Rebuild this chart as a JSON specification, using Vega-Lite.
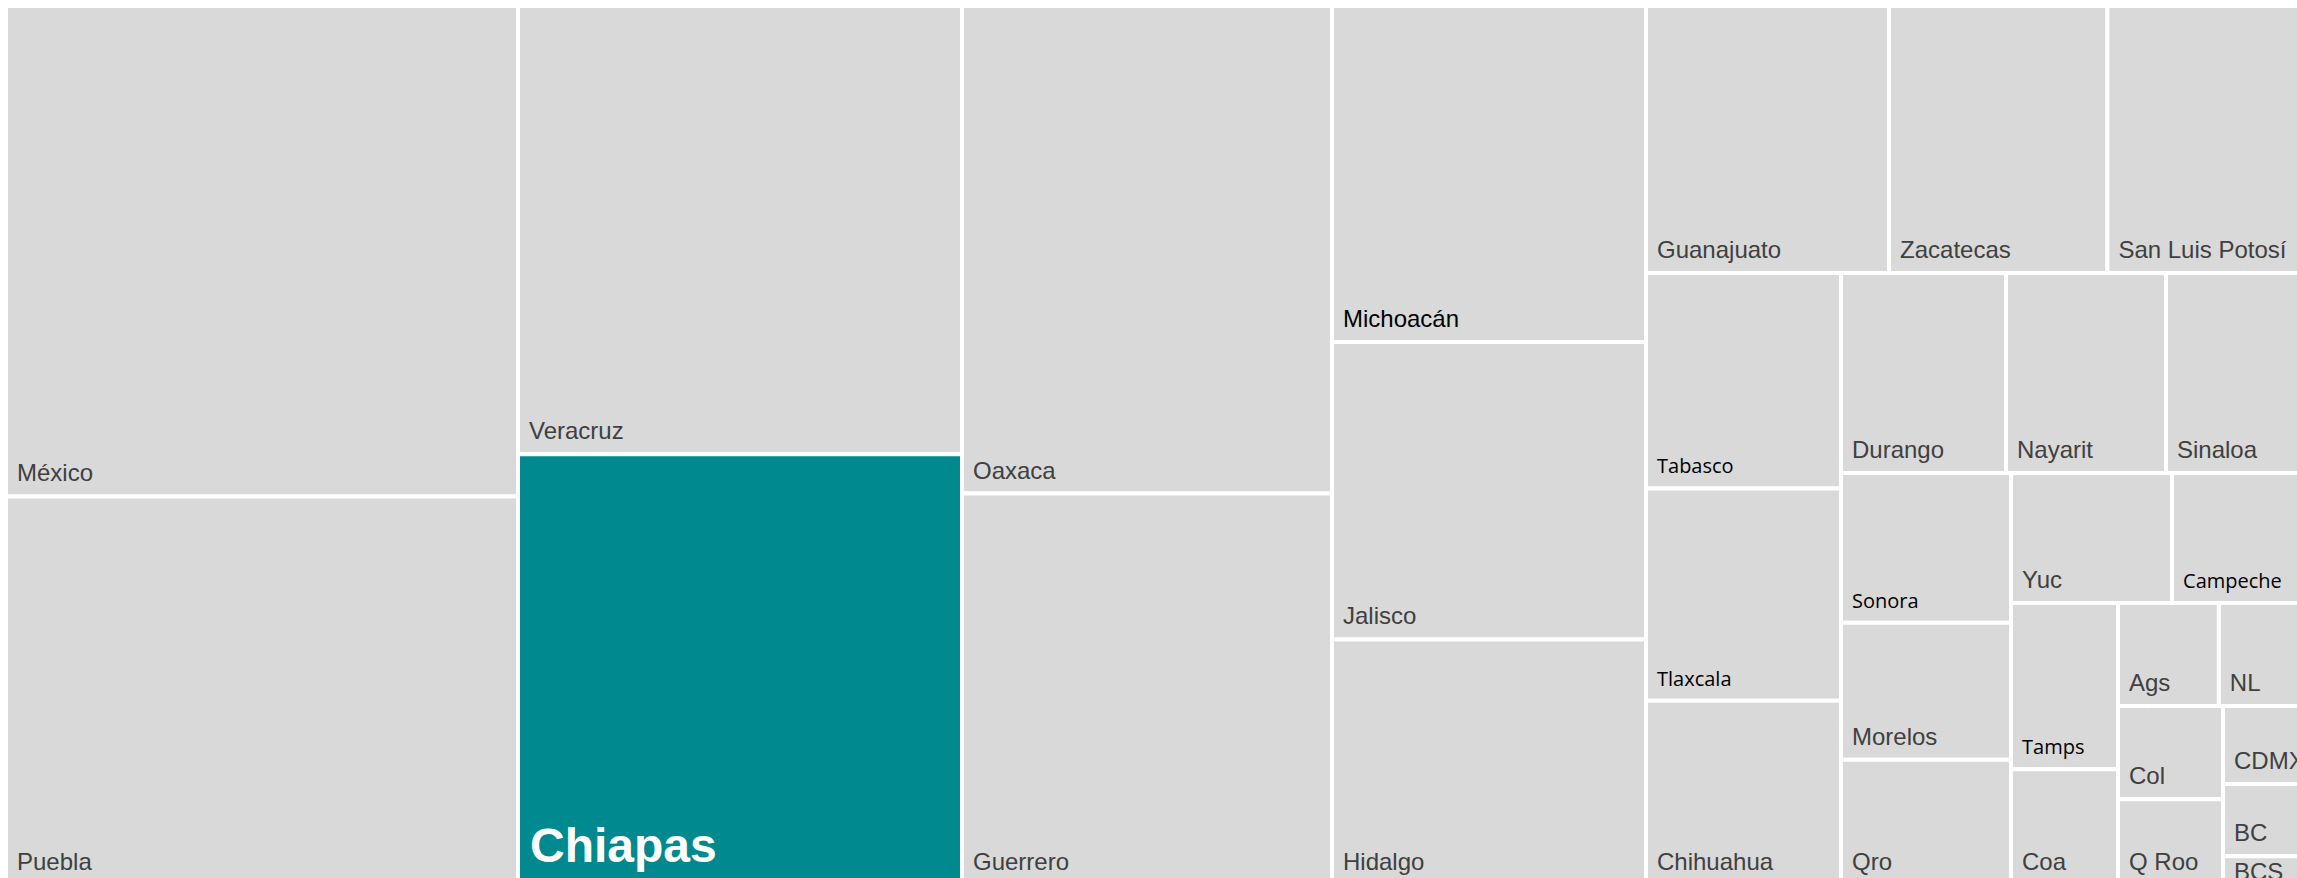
{
  "$schema": "https://vega.github.io/schema/vega-lite/v6.json",
  "background": "white",
  "padding": {"left": 4, "top": 4, "right": 0, "bottom": 0},
  "datasets": {
    "states": [
      {"state": "México", "value": 251.1, "strip": "A"},
      {"state": "Puebla", "value": 198.9, "strip": "A"},
      {"state": "Veracruz", "value": 199.0, "strip": "B"},
      {"state": "Chiapas", "value": 191.3, "strip": "B"},
      {"state": "Oaxaca", "value": 180.4, "strip": "C"},
      {"state": "Guerrero", "value": 144.8, "strip": "C"},
      {"state": "Michoacán", "value": 105.5, "strip": "D"},
      {"state": "Jalisco", "value": 93.4, "strip": "D"},
      {"state": "Hidalgo", "value": 77.1, "strip": "D"},
      {"state": "Guanajuato", "value": 64.9, "strip": "E"},
      {"state": "Zacatecas", "value": 58.3, "strip": "E"},
      {"state": "San Luis Potosí", "value": 54.1, "strip": "E"},
      {"state": "Tabasco", "value": 42.0, "strip": "F"},
      {"state": "Tlaxcala", "value": 41.4, "strip": "F"},
      {"state": "Chihuahua", "value": 35.9, "strip": "F"},
      {"state": "Durango", "value": 33.0, "strip": "G"},
      {"state": "Nayarit", "value": 32.0, "strip": "G"},
      {"state": "Sinaloa", "value": 28.8, "strip": "G"},
      {"state": "Sonora", "value": 25.5, "strip": "H"},
      {"state": "Morelos", "value": 23.3, "strip": "H"},
      {"state": "Qro", "value": 21.3, "strip": "H"},
      {"state": "Yuc", "value": 20.9, "strip": "I"},
      {"state": "Campeche", "value": 17.9, "strip": "I"},
      {"state": "Tamps", "value": 17.8, "strip": "J"},
      {"state": "Coa", "value": 12.4, "strip": "J"},
      {"state": "Ags", "value": 10.4, "strip": "K"},
      {"state": "NL", "value": 9.4, "strip": "K"},
      {"state": "Col", "value": 9.8, "strip": "L"},
      {"state": "Q Roo", "value": 9.0, "strip": "L"},
      {"state": "CDMX", "value": 6.8, "strip": "M"},
      {"state": "BC", "value": 6.3, "strip": "M"},
      {"state": "BCS", "value": 2.5, "strip": "M"}
    ]
  },
  "data": {"name": "states"},
  "config": {
    "view": {"stroke": null},
    "concat": {"spacing": 0},
    "axis": {"disable": true}
  },
  "bounds": "flush",
  "resolve": {"scale": {"x": "independent", "y": "independent"}},
  "hconcat": [
    {
      "width": 512, "height": 879,
      "transform": [{"filter": "datum.strip === 'A'"}, {"stack": "value", "groupby": ["strip"], "sort": [{"field": "value", "order": "ascending"}], "offset": "normalize", "as": ["s0", "s1"]}],
      "encoding": {"x": {"datum": 0, "type": "quantitative", "scale": {"domain": [0, 1]}}, "y": {"field": "s0", "type": "quantitative", "scale": {"domain": [0, 1]}}},
      "layer": [
        {"mark": {"type": "rect", "stroke": "white", "strokeWidth": 4}, "encoding": {"x2": {"datum": 1}, "y2": {"field": "s1"}, "color": {"value": "#D9D9D9"}}},
        {"mark": {"type": "text", "align": "left", "baseline": "alphabetic", "dx": 11, "dy": -15, "font": "Liberation Sans", "fontSize": 24}, "encoding": {"text": {"field": "state"}, "color": {"value": "#404040"}}}
      ]
    },
    {
      "width": 444, "height": 879,
      "transform": [{"filter": "datum.strip === 'B'"}, {"stack": "value", "groupby": ["strip"], "sort": [{"field": "value", "order": "ascending"}], "offset": "normalize", "as": ["s0", "s1"]}],
      "encoding": {"x": {"datum": 0, "type": "quantitative", "scale": {"domain": [0, 1]}}, "y": {"field": "s0", "type": "quantitative", "scale": {"domain": [0, 1]}}},
      "layer": [
        {"mark": {"type": "rect", "stroke": "white", "strokeWidth": 4}, "encoding": {"x2": {"datum": 1}, "y2": {"field": "s1"}, "color": {"condition": {"test": "datum.state === 'Chiapas'", "value": "#00898E"}, "value": "#D9D9D9"}}},
        {"transform": [{"filter": "datum.state !== 'Chiapas'"}], "mark": {"type": "text", "align": "left", "baseline": "alphabetic", "dx": 11, "dy": -15, "font": "Liberation Sans", "fontSize": 24}, "encoding": {"text": {"field": "state"}, "color": {"value": "#404040"}}},
        {"transform": [{"filter": "datum.state === 'Chiapas'"}], "mark": {"type": "text", "align": "left", "baseline": "alphabetic", "dx": 12, "dy": -23, "font": "Liberation Sans", "fontWeight": "bold", "fontSize": 48}, "encoding": {"text": {"field": "state"}, "color": {"value": "#FFFFFF"}}}
      ]
    },
    {
      "width": 370, "height": 879,
      "transform": [{"filter": "datum.strip === 'C'"}, {"stack": "value", "groupby": ["strip"], "sort": [{"field": "value", "order": "ascending"}], "offset": "normalize", "as": ["s0", "s1"]}],
      "encoding": {"x": {"datum": 0, "type": "quantitative", "scale": {"domain": [0, 1]}}, "y": {"field": "s0", "type": "quantitative", "scale": {"domain": [0, 1]}}},
      "layer": [
        {"mark": {"type": "rect", "stroke": "white", "strokeWidth": 4}, "encoding": {"x2": {"datum": 1}, "y2": {"field": "s1"}, "color": {"value": "#D9D9D9"}}},
        {"mark": {"type": "text", "align": "left", "baseline": "alphabetic", "dx": 11, "dy": -15, "font": "Liberation Sans", "fontSize": 24}, "encoding": {"text": {"field": "state"}, "color": {"value": "#404040"}}}
      ]
    },
    {
      "width": 314, "height": 879,
      "transform": [{"filter": "datum.strip === 'D'"}, {"stack": "value", "groupby": ["strip"], "sort": [{"field": "value", "order": "ascending"}], "offset": "normalize", "as": ["s0", "s1"]}],
      "encoding": {"x": {"datum": 0, "type": "quantitative", "scale": {"domain": [0, 1]}}, "y": {"field": "s0", "type": "quantitative", "scale": {"domain": [0, 1]}}},
      "layer": [
        {"mark": {"type": "rect", "stroke": "white", "strokeWidth": 4}, "encoding": {"x2": {"datum": 1}, "y2": {"field": "s1"}, "color": {"value": "#D9D9D9"}}},
        {"mark": {"type": "text", "align": "left", "baseline": "alphabetic", "dx": 11, "dy": -15, "font": "Liberation Sans", "fontSize": 24}, "encoding": {"text": {"field": "state"}, "color": {"condition": {"test": "datum.state === 'Michoacán'", "value": "#000000"}, "value": "#404040"}}}
      ]
    },
    {
      "bounds": "flush",
      "resolve": {"scale": {"x": "independent", "y": "independent"}},
      "vconcat": [
        {
          "width": 664, "height": 267,
          "transform": [{"filter": "datum.strip === 'E'"}, {"stack": "value", "groupby": ["strip"], "sort": [{"field": "value", "order": "descending"}], "offset": "normalize", "as": ["s0", "s1"]}],
          "encoding": {"x": {"field": "s0", "type": "quantitative", "scale": {"domain": [0, 1]}}, "y": {"datum": 0, "type": "quantitative", "scale": {"domain": [0, 1]}}},
          "layer": [
            {"mark": {"type": "rect", "stroke": "white", "strokeWidth": 4}, "encoding": {"x2": {"field": "s1"}, "y2": {"datum": 1}, "color": {"value": "#D9D9D9"}}},
            {"mark": {"type": "text", "align": "left", "baseline": "alphabetic", "dx": 11, "dy": -15, "font": "Liberation Sans", "fontSize": 24}, "encoding": {"text": {"field": "state"}, "color": {"value": "#404040"}}}
          ]
        },
        {
          "bounds": "flush",
          "resolve": {"scale": {"x": "independent", "y": "independent"}},
          "hconcat": [
            {
              "width": 195, "height": 612,
              "transform": [{"filter": "datum.strip === 'F'"}, {"stack": "value", "groupby": ["strip"], "sort": [{"field": "value", "order": "ascending"}], "offset": "normalize", "as": ["s0", "s1"]}],
              "encoding": {"x": {"datum": 0, "type": "quantitative", "scale": {"domain": [0, 1]}}, "y": {"field": "s0", "type": "quantitative", "scale": {"domain": [0, 1]}}},
              "layer": [
                {"mark": {"type": "rect", "stroke": "white", "strokeWidth": 4}, "encoding": {"x2": {"datum": 1}, "y2": {"field": "s1"}, "color": {"value": "#D9D9D9"}}},
                {"transform": [{"filter": "datum.state === 'Chihuahua'"}], "mark": {"type": "text", "align": "left", "baseline": "alphabetic", "dx": 11, "dy": -15, "font": "Liberation Sans", "fontSize": 24}, "encoding": {"text": {"field": "state"}, "color": {"value": "#404040"}}},
                {"transform": [{"filter": "datum.state !== 'Chihuahua'"}], "mark": {"type": "text", "align": "left", "baseline": "alphabetic", "dx": 11, "dy": -15, "font": "Open Sans", "fontSize": 20}, "encoding": {"text": {"field": "state"}, "color": {"value": "#000000"}}}
              ]
            },
            {
              "bounds": "flush",
              "resolve": {"scale": {"x": "independent", "y": "independent"}},
              "vconcat": [
                {
                  "width": 469, "height": 200,
                  "transform": [{"filter": "datum.strip === 'G'"}, {"stack": "value", "groupby": ["strip"], "sort": [{"field": "value", "order": "descending"}], "offset": "normalize", "as": ["s0", "s1"]}],
                  "encoding": {"x": {"field": "s0", "type": "quantitative", "scale": {"domain": [0, 1]}}, "y": {"datum": 0, "type": "quantitative", "scale": {"domain": [0, 1]}}},
                  "layer": [
                    {"mark": {"type": "rect", "stroke": "white", "strokeWidth": 4}, "encoding": {"x2": {"field": "s1"}, "y2": {"datum": 1}, "color": {"value": "#D9D9D9"}}},
                    {"mark": {"type": "text", "align": "left", "baseline": "alphabetic", "dx": 11, "dy": -15, "font": "Liberation Sans", "fontSize": 24}, "encoding": {"text": {"field": "state"}, "color": {"value": "#404040"}}}
                  ]
                },
                {
                  "bounds": "flush",
                  "resolve": {"scale": {"x": "independent", "y": "independent"}},
                  "hconcat": [
                    {
                      "width": 170, "height": 412,
                      "transform": [{"filter": "datum.strip === 'H'"}, {"stack": "value", "groupby": ["strip"], "sort": [{"field": "value", "order": "ascending"}], "offset": "normalize", "as": ["s0", "s1"]}],
                      "encoding": {"x": {"datum": 0, "type": "quantitative", "scale": {"domain": [0, 1]}}, "y": {"field": "s0", "type": "quantitative", "scale": {"domain": [0, 1]}}},
                      "layer": [
                        {"mark": {"type": "rect", "stroke": "white", "strokeWidth": 4}, "encoding": {"x2": {"datum": 1}, "y2": {"field": "s1"}, "color": {"value": "#D9D9D9"}}},
                        {"transform": [{"filter": "datum.state !== 'Sonora'"}], "mark": {"type": "text", "align": "left", "baseline": "alphabetic", "dx": 11, "dy": -15, "font": "Liberation Sans", "fontSize": 24}, "encoding": {"text": {"field": "state"}, "color": {"value": "#404040"}}},
                        {"transform": [{"filter": "datum.state === 'Sonora'"}], "mark": {"type": "text", "align": "left", "baseline": "alphabetic", "dx": 11, "dy": -15, "font": "Open Sans", "fontSize": 20}, "encoding": {"text": {"field": "state"}, "color": {"value": "#000000"}}}
                      ]
                    },
                    {
                      "bounds": "flush",
                      "resolve": {"scale": {"x": "independent", "y": "independent"}},
                      "vconcat": [
                        {
                          "width": 299, "height": 130,
                          "transform": [{"filter": "datum.strip === 'I'"}, {"stack": "value", "groupby": ["strip"], "sort": [{"field": "value", "order": "descending"}], "offset": "normalize", "as": ["s0", "s1"]}],
                          "encoding": {"x": {"field": "s0", "type": "quantitative", "scale": {"domain": [0, 1]}}, "y": {"datum": 0, "type": "quantitative", "scale": {"domain": [0, 1]}}},
                          "layer": [
                            {"mark": {"type": "rect", "stroke": "white", "strokeWidth": 4}, "encoding": {"x2": {"field": "s1"}, "y2": {"datum": 1}, "color": {"value": "#D9D9D9"}}},
                            {"transform": [{"filter": "datum.state !== 'Campeche'"}], "mark": {"type": "text", "align": "left", "baseline": "alphabetic", "dx": 11, "dy": -15, "font": "Liberation Sans", "fontSize": 24}, "encoding": {"text": {"field": "state"}, "color": {"value": "#404040"}}},
                            {"transform": [{"filter": "datum.state === 'Campeche'"}], "mark": {"type": "text", "align": "left", "baseline": "alphabetic", "dx": 11, "dy": -15, "font": "Open Sans", "fontSize": 20}, "encoding": {"text": {"field": "state"}, "color": {"value": "#000000"}}}
                          ]
                        },
                        {
                          "bounds": "flush",
                          "resolve": {"scale": {"x": "independent", "y": "independent"}},
                          "hconcat": [
                            {
                              "width": 107, "height": 282,
                              "transform": [{"filter": "datum.strip === 'J'"}, {"stack": "value", "groupby": ["strip"], "sort": [{"field": "value", "order": "ascending"}], "offset": "normalize", "as": ["s0", "s1"]}],
                              "encoding": {"x": {"datum": 0, "type": "quantitative", "scale": {"domain": [0, 1]}}, "y": {"field": "s0", "type": "quantitative", "scale": {"domain": [0, 1]}}},
                              "layer": [
                                {"mark": {"type": "rect", "stroke": "white", "strokeWidth": 4}, "encoding": {"x2": {"datum": 1}, "y2": {"field": "s1"}, "color": {"value": "#D9D9D9"}}},
                                {"transform": [{"filter": "datum.state !== 'Tamps'"}], "mark": {"type": "text", "align": "left", "baseline": "alphabetic", "dx": 11, "dy": -15, "font": "Liberation Sans", "fontSize": 24}, "encoding": {"text": {"field": "state"}, "color": {"value": "#404040"}}},
                                {"transform": [{"filter": "datum.state === 'Tamps'"}], "mark": {"type": "text", "align": "left", "baseline": "alphabetic", "dx": 11, "dy": -15, "font": "Open Sans", "fontSize": 20}, "encoding": {"text": {"field": "state"}, "color": {"value": "#000000"}}}
                              ]
                            },
                            {
                              "bounds": "flush",
                              "resolve": {"scale": {"x": "independent", "y": "independent"}},
                              "vconcat": [
                                {
                                  "width": 192, "height": 103,
                                  "transform": [{"filter": "datum.strip === 'K'"}, {"stack": "value", "groupby": ["strip"], "sort": [{"field": "value", "order": "descending"}], "offset": "normalize", "as": ["s0", "s1"]}],
                                  "encoding": {"x": {"field": "s0", "type": "quantitative", "scale": {"domain": [0, 1]}}, "y": {"datum": 0, "type": "quantitative", "scale": {"domain": [0, 1]}}},
                                  "layer": [
                                    {"mark": {"type": "rect", "stroke": "white", "strokeWidth": 4}, "encoding": {"x2": {"field": "s1"}, "y2": {"datum": 1}, "color": {"value": "#D9D9D9"}}},
                                    {"mark": {"type": "text", "align": "left", "baseline": "alphabetic", "dx": 11, "dy": -15, "font": "Liberation Sans", "fontSize": 24}, "encoding": {"text": {"field": "state"}, "color": {"value": "#404040"}}}
                                  ]
                                },
                                {
                                  "bounds": "flush",
                                  "resolve": {"scale": {"x": "independent", "y": "independent"}},
                                  "hconcat": [
                                    {
                                      "width": 105, "height": 179,
                                      "transform": [{"filter": "datum.strip === 'L'"}, {"stack": "value", "groupby": ["strip"], "sort": [{"field": "value", "order": "ascending"}], "offset": "normalize", "as": ["s0", "s1"]}],
                                      "encoding": {"x": {"datum": 0, "type": "quantitative", "scale": {"domain": [0, 1]}}, "y": {"field": "s0", "type": "quantitative", "scale": {"domain": [0, 1]}}},
                                      "layer": [
                                        {"mark": {"type": "rect", "stroke": "white", "strokeWidth": 4}, "encoding": {"x2": {"datum": 1}, "y2": {"field": "s1"}, "color": {"value": "#D9D9D9"}}},
                                        {"mark": {"type": "text", "align": "left", "baseline": "alphabetic", "dx": 11, "dy": -15, "font": "Liberation Sans", "fontSize": 24}, "encoding": {"text": {"field": "state"}, "color": {"value": "#404040"}}}
                                      ]
                                    },
                                    {
                                      "width": 87, "height": 179,
                                      "transform": [{"filter": "datum.strip === 'M'"}, {"stack": "value", "groupby": ["strip"], "sort": [{"field": "value", "order": "ascending"}], "offset": "normalize", "as": ["s0", "s1"]}],
                                      "encoding": {"x": {"datum": 0, "type": "quantitative", "scale": {"domain": [0, 1]}}, "y": {"field": "s0", "type": "quantitative", "scale": {"domain": [0, 1]}}},
                                      "layer": [
                                        {"mark": {"type": "rect", "stroke": "white", "strokeWidth": 4}, "encoding": {"x2": {"datum": 1}, "y2": {"field": "s1"}, "color": {"value": "#D9D9D9"}}},
                                        {"transform": [{"filter": "datum.state !== 'BCS'"}], "mark": {"type": "text", "align": "left", "baseline": "alphabetic", "dx": 11, "dy": -15, "font": "Liberation Sans", "fontSize": 24}, "encoding": {"text": {"field": "state"}, "color": {"value": "#404040"}}},
                                        {"transform": [{"filter": "datum.state === 'BCS'"}], "mark": {"type": "text", "align": "left", "baseline": "alphabetic", "dx": 11, "dy": -5, "font": "Liberation Sans", "fontSize": 24}, "encoding": {"text": {"field": "state"}, "color": {"value": "#404040"}}}
                                      ]
                                    }
                                  ]
                                }
                              ]
                            }
                          ]
                        }
                      ]
                    }
                  ]
                }
              ]
            }
          ]
        }
      ]
    }
  ]
}
